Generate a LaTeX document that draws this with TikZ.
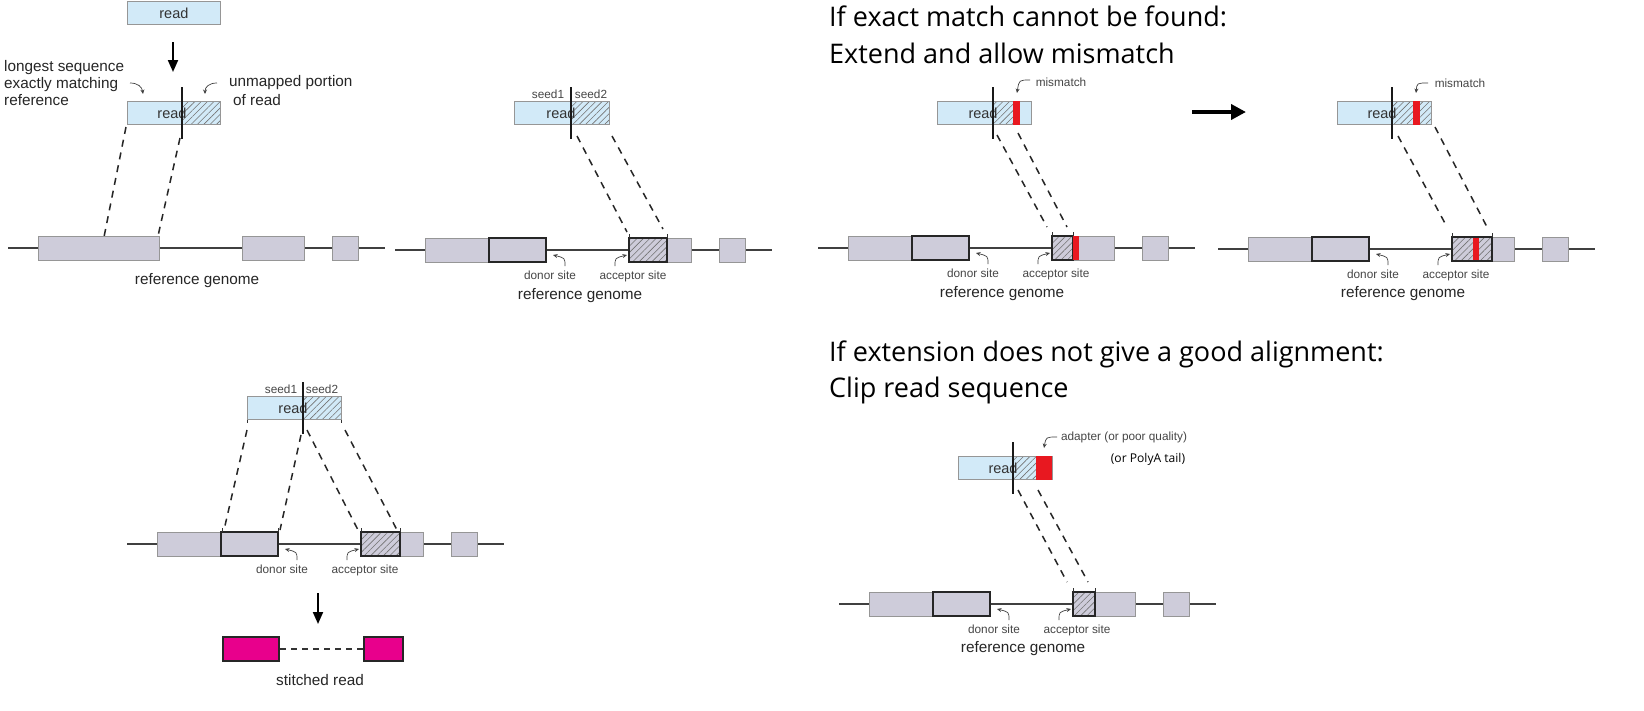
\documentclass[tikz,border=0pt]{standalone}
\usepackage{fontspec}
\setmainfont{Liberation Sans}
\newfontfamily\titlefont{Open Sans}
\usetikzlibrary{patterns.meta,arrows.meta}
\definecolor{lblue}{RGB}{210,234,248}
\definecolor{exgray}{RGB}{206,204,218}
\definecolor{bord}{RGB}{150,150,150}
\definecolor{mred}{RGB}{232,24,32}
\definecolor{magen}{RGB}{232,0,140}
\definecolor{lbltext}{RGB}{70,70,70}
\tikzset{
 exonbox/.style={draw=bord, fill=exgray, line width=0.8pt},
 boldbox/.style={draw=black!85, line width=2pt},
 hatchfill/.style={pattern={Lines[angle=45,distance=4.5pt,line width=0.6pt]}, pattern color=black!55},
 mapline/.style={line width=1.5pt, dash pattern=on 7pt off 6pt, black!85},
 genomeline/.style={line width=1.4pt, black!75},
 splitline/.style={line width=2pt, black!90},
 tick/.style={line width=0.9pt, black!80},
 small/.style={font=\fontsize{11.8}{14}\selectfont, text=lbltext, inner sep=0, anchor=base},
 mid/.style={font=\fontsize{15.3}{17.5}\selectfont, text=black!85, inner sep=0, anchor=base},
 readlbl/.style={font=\fontsize{14.5}{17}\selectfont, text=black!80, inner sep=0, anchor=base},
 title/.style={font=\titlefont\fontsize{27}{33}\selectfont, inner sep=0, anchor=base west},
 curvy/.style={-{Stealth[length=4.5pt,width=4pt]}, line width=0.7pt, black!75},
 downarrow/.style={-{Triangle[length=12pt,width=10pt]}, line width=2pt, black},
}
\newcommand\genomerow[2]{%
 \begin{scope}[shift={(#1,#2)}]
  \draw[genomeline] (0,0) -- (377,0);
  \draw[exonbox] (30,-12) rectangle (151,12);
  \draw[exonbox] (234,-12) rectangle (296,12);
  \draw[exonbox] (324,-12) rectangle (350,12);
 \end{scope}}
\newcommand\splicerow[4]{%
 \begin{scope}[shift={(#1,#2)}]
  \draw[boldbox] (94,-12) rectangle (151,12);
  \fill[hatchfill] (234,-12) rectangle ++(#3,24);
  \draw[boldbox] (234,-12) rectangle ++(#3,24);
  \draw[tick] (234,-12) -- (234,-16);
  \draw[tick] ({234+#3},-12) -- ({234+#3},-16);
  \node[small] (#4don) at (155,29) {donor site};
  \node[small] (#4acc) at (238,29) {acceptor site};
  \coordinate (#4dt) at (170,16); \coordinate (#4dh) at (158,5);
  \coordinate (#4at) at (220,16); \coordinate (#4ah) at (232,5);
  \draw[curvy] (#4dt) .. controls (170,8) .. (#4dh);
  \draw[curvy] (#4at) .. controls (220,8) .. (#4ah);
 \end{scope}}
\newcommand\readseg[6]{%
 \fill[lblue] (#2,#3) rectangle ++(#4,23.5);
 \fill[hatchfill] (#5,#3) rectangle ({#6},{#3+23.5});
 \draw[bord, line width=0.8pt] (#2,#3) rectangle ++(#4,23.5);
 \node[readlbl] (#1) at ({#5-10},{#3+17}) {read};
 \draw[splitline] (#5,{#3-14}) -- (#5,{#3+38});
}
\begin{document}
\begin{tikzpicture}[x=1pt,y=-1pt]
\useasboundingbox (0,0) rectangle (1644,710);
\fill[white] (0,0) rectangle (1644,710);

% ---------- Panel 1 ----------
\node[draw=bord, fill=lblue, line width=0.8pt, minimum width=93pt, minimum height=23pt,
      inner sep=0, anchor=north west, font=\fontsize{14.5}{17}\selectfont, text=black!80] (r0) at (127,1) {read};
\coordinate (a1s) at (173,42); \coordinate (a1e) at (173,72);
\draw[downarrow] (a1s) -- (a1e);
\node[mid, anchor=base west] (lng1) at (4,71) {longest sequence};
\node[mid, anchor=base west] (lng2) at (4,88) {exactly matching};
\node[mid, anchor=base west] (lng3) at (4,105) {reference};
\node[mid, anchor=base west] (unm1) at (229,86) {unmapped portion};
\node[mid, anchor=base west] (unm2) at (233,105) {of read};
\draw[curvy] (130,83) .. controls (138,83) and (142,87) .. (143,94);
\draw[curvy] (217,83) .. controls (209,83) and (205,87) .. (205,94);
\readseg{r1}{127}{101}{93}{182}{220}
\genomerow{8}{248}
\node[mid] (ref1) at (197,284) {reference genome};
\coordinate (p1a) at (126,127); \coordinate (p1b) at (104,237);
\coordinate (p1c) at (180,138); \coordinate (p1d) at (158,236);
\draw[mapline] (p1a) -- (p1b);
\draw[mapline] (p1c) -- (p1d);

% ---------- Panel 2 ----------
\readseg{r2}{514}{101}{95}{571}{609}
\node[small] (s21) at (548,98) {seed1};
\node[small] (s22) at (591,98) {seed2};
\genomerow{395}{250}
\splicerow{395}{250}{38}{p2}
\node[mid] (ref2) at (580,299) {reference genome};
\coordinate (p2a) at (577,136); \coordinate (p2b) at (627,232);
\coordinate (p2c) at (612,136); \coordinate (p2d) at (663,229);
\draw[mapline] (p2a) -- (p2b);
\draw[mapline] (p2c) -- (p2d);

% ---------- Panel 3 ----------
\node[title] (t1) at (829,26) {If exact match cannot be found:};
\node[title] (t2) at (829,63) {Extend and allow mismatch};
\readseg{r3}{937}{101}{94}{993}{1013}
\fill[mred] (1013,101) rectangle (1020,124.5);
\draw[splitline] (993,87) -- (993,139);
\node[small] (mm3) at (1061,86) {mismatch};
\draw[curvy] (1030,80) .. controls (1019,80) .. (1017,93);
\genomerow{818}{248}
\splicerow{818}{248}{21}{p3}
\node[mid] (ref3) at (1002,297) {reference genome};
\fill[mred] (1073,236) rectangle (1079,260);
\coordinate (p3a) at (997,135); \coordinate (p3b) at (1047,227);
\coordinate (p3c) at (1018,133); \coordinate (p3d) at (1067,227);
\draw[mapline] (p3a) -- (p3b);
\draw[mapline] (p3c) -- (p3d);
\coordinate (bas) at (1192,112); \coordinate (bae) at (1246,112);
\draw[-{Triangle[length=15pt,width=15pt]}, line width=4.5pt] (bas) -- (bae);

% ---------- Panel 4 ----------
\readseg{r4}{1337}{101}{94}{1392}{1431}
\fill[mred] (1413,101) rectangle (1420,124.5);
\node[small] (mm4) at (1460,87) {mismatch};
\draw[curvy] (1428,83) .. controls (1417,83) .. (1416,93);
\genomerow{1218}{249}
\splicerow{1218}{249}{40}{p4}
\node[mid] (ref4) at (1403,297) {reference genome};
\fill[mred] (1473,238) rectangle (1479,260);
\coordinate (p4a) at (1398,136); \coordinate (p4b) at (1447,227);
\coordinate (p4c) at (1435,127); \coordinate (p4d) at (1487,227);
\draw[mapline] (p4a) -- (p4b);
\draw[mapline] (p4c) -- (p4d);

% ---------- Panel 5 ----------
\readseg{r5}{247}{396}{94}{303}{341}
\draw[tick] (247,419.5) -- (247,423);
\draw[tick] (341,419.5) -- (341,423);
\node[small] (s51) at (281,393) {seed1};
\node[small] (s52) at (322,393) {seed2};
\genomerow{127}{544}
\splicerow{127}{544}{39}{p5}
\draw[tick] (222,532) -- (222,528);
\draw[tick] (278,532) -- (278,528);
\coordinate (p5a) at (247,430); \coordinate (p5b) at (224,530);
\coordinate (p5c) at (301,435); \coordinate (p5d) at (280,530);
\coordinate (p5e) at (307,430); \coordinate (p5f) at (358,530);
\coordinate (p5g) at (345,430); \coordinate (p5h) at (397,530);
\draw[mapline] (p5a) -- (p5b);
\draw[mapline] (p5c) -- (p5d);
\draw[mapline] (p5e) -- (p5f);
\draw[mapline] (p5g) -- (p5h);
\coordinate (a5s) at (318,593); \coordinate (a5e) at (318,624);
\draw[downarrow] (a5s) -- (a5e);
\node[draw=black!85, line width=2pt, fill=magen, minimum width=56pt, minimum height=24pt,
      inner sep=0, anchor=north west] (m1) at (222,636) {};
\node[draw=black!85, line width=2pt, fill=magen, minimum width=39pt, minimum height=24pt,
      inner sep=0, anchor=north west] (m2) at (363,636) {};
\draw[line width=1.8pt, dash pattern=on 6pt off 5pt, black!80] (m1.east) -- (m2.west);
\node[mid] (st) at (320,685) {stitched read};

% ---------- Panel 6 ----------
\node[title] (t3) at (829,361) {If extension does not give a good alignment:};
\node[title] (t4) at (829,397) {Clip read sequence};
\readseg{r6}{958}{456}{94}{1013}{1036}
\fill[mred] (1036,456) rectangle (1052,479.5);
\node[small] (ad) at (1124,440) {adapter (or poor quality)};
\node[font=\titlefont\fontsize{12.1}{14}\selectfont, inner sep=0, anchor=base] (pa) at (1148,462) {(or PolyA tail)};
\draw[curvy] (1057,437) .. controls (1046,437) .. (1044,448);
\genomerow{839}{604}
\splicerow{839}{604}{22}{p6}
\node[mid] (ref6) at (1023,652) {reference genome};
\coordinate (p6a) at (1018,490); \coordinate (p6b) at (1067,582);
\coordinate (p6c) at (1038,490); \coordinate (p6d) at (1088,582);
\draw[mapline] (p6a) -- (p6b);
\draw[mapline] (p6c) -- (p6d);
\end{tikzpicture}
\end{document}
